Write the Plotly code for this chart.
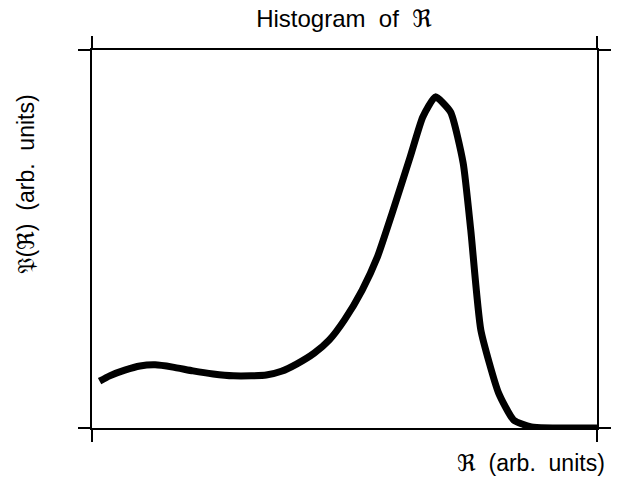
import plotly.graph_objects as go

# Data (arbitrary units, 0-100 on both axes)
r_values = [1.5, 3.5, 6.5, 9.5, 12.5, 16, 20, 24, 28, 31.5, 34.5, 37.5, 40.5, 44, 47,
            50, 53.5, 56.5, 59.5, 63, 65.5, 68, 71, 73.5, 75, 77, 80.5, 83.5, 87, 100]
p_values = [12.4, 13.8, 15.3, 16.4, 16.7, 16.1, 15.1, 14.3, 13.8, 13.8, 14.0, 15.0, 16.9,
            19.8, 23.3, 28.6, 36.5, 45.2, 57.1, 71.7, 82.3, 87.6, 83.6, 70.1, 52.4, 25.9,
            9.3, 2.1, 0.3, 0]
axis_ticks = [0, 100]

FONT = "Liberation Sans, Arial, DejaVu Sans, sans-serif"
SP = "\u00a0\u00a0"

fig = go.Figure()
fig.add_trace(go.Scatter(x=r_values, y=p_values, mode="lines",
                         line=dict(color="black", width=7, shape="spline", smoothing=0.5),
                         showlegend=False, hoverinfo="skip"))

axis_common = dict(range=[0, 100], tickvals=axis_ticks, ticks="outside", ticklen=12,
                   tickwidth=2, tickcolor="black", showticklabels=False,
                   showline=True, linecolor="black", linewidth=2, mirror="ticks",
                   showgrid=False, zeroline=False)

fig.update_layout(
    width=622, height=478, autosize=False,
    margin=dict(l=92, r=11, t=50, b=50),
    paper_bgcolor="white", plot_bgcolor="white",
    xaxis=axis_common, yaxis=axis_common,
    title=dict(text="Histogram" + SP + "of" + SP + "\u211c", x=0.553, xanchor="center",
               y=0.962, yanchor="middle", font=dict(family=FONT, size=24, color="black")),
    annotations=[
        dict(text="\U0001D513(\u211c)" + SP + "(arb." + SP + "units)", xref="paper",
             yref="paper", x=-0.13, xanchor="center", y=0.645, yanchor="middle",
             textangle=-90, showarrow=False,
             font=dict(family=FONT, size=23, color="black")),
        dict(text="\u211c" + SP + "(arb." + SP + "units)", xref="paper", yref="paper",
             x=1.02, xanchor="right", y=-0.092, yanchor="middle", showarrow=False,
             font=dict(family=FONT, size=23, color="black")),
    ],
)

fig.write_html("out.html",
               config={"displayModeBar": False, "responsive": False},
               post_script="document.body.style.margin='0';"
                           "document.body.style.overflow='hidden';")
